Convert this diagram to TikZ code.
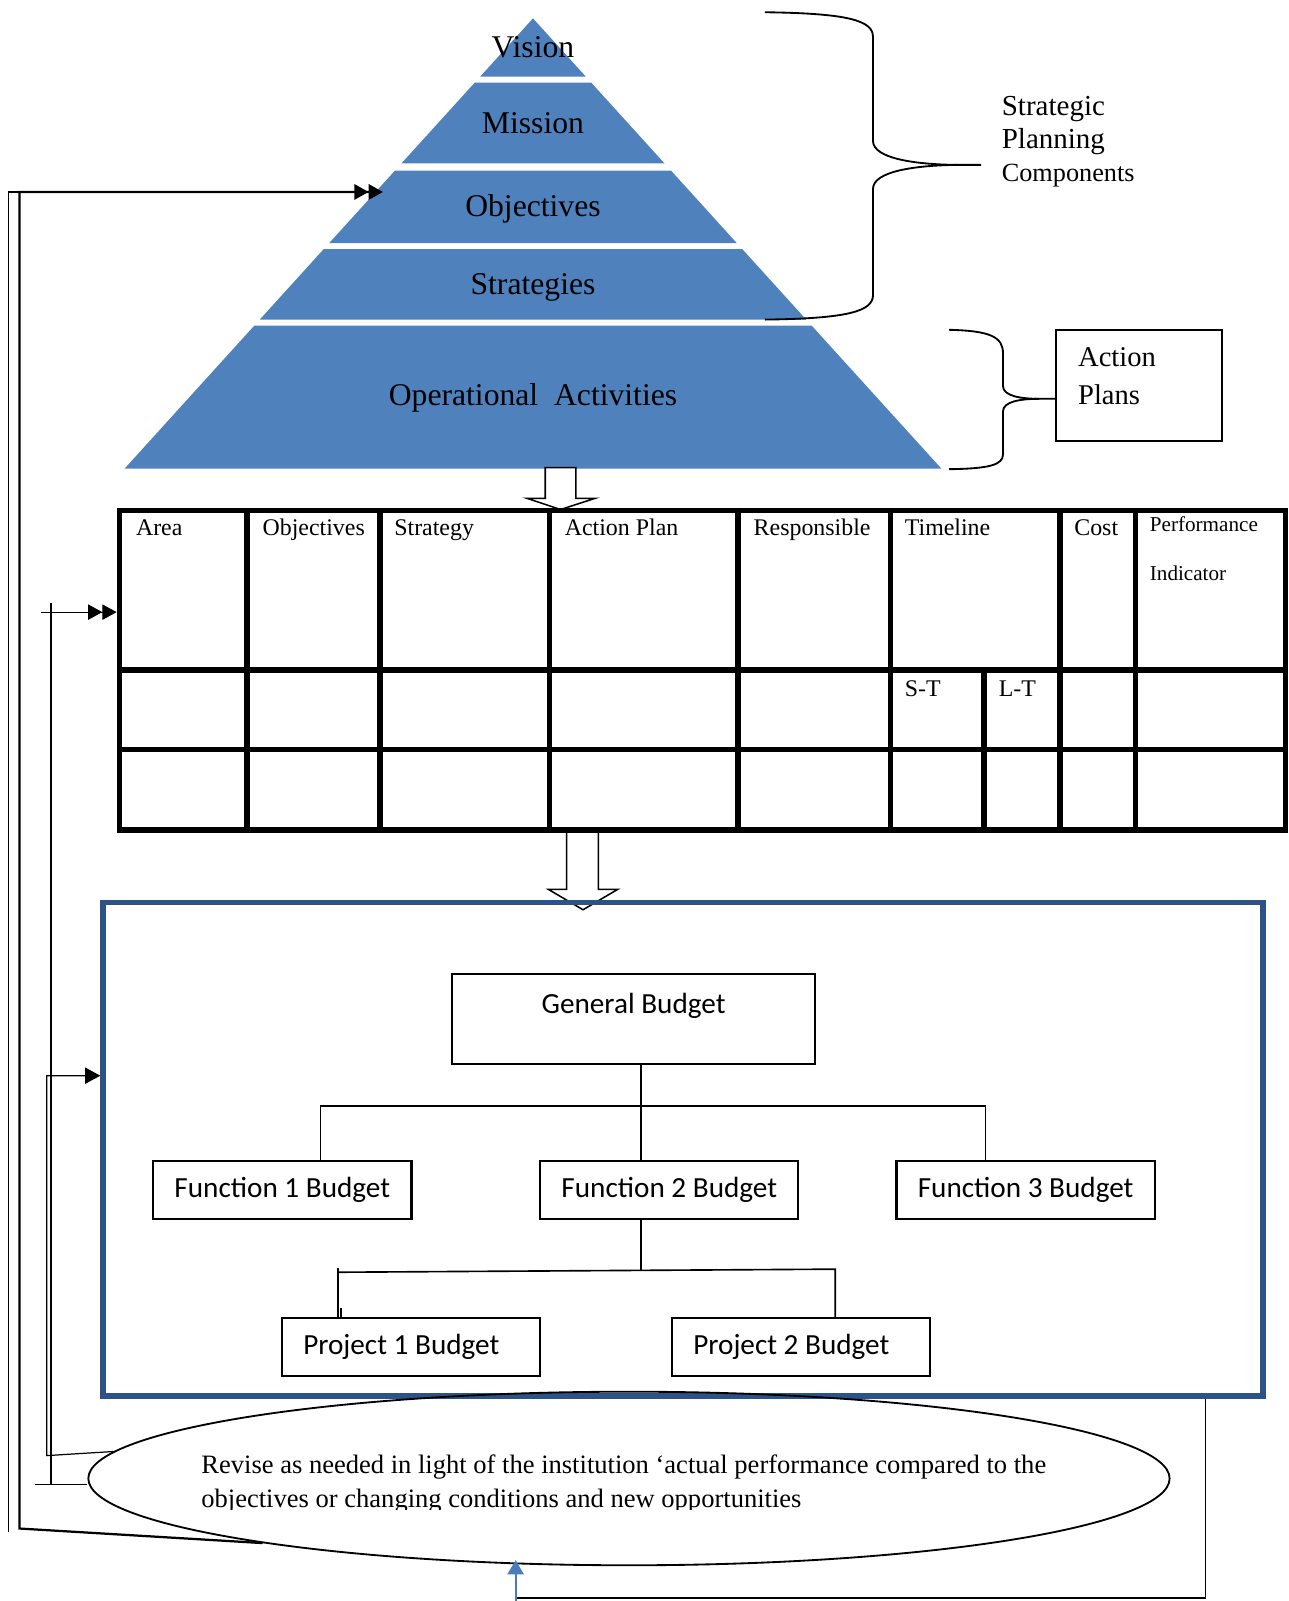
\documentclass[tikz,border=0pt]{standalone}
\usepackage{fontspec}
\setmainfont{Liberation Serif}
\newfontfamily\budgetfont{Carlito}
\usetikzlibrary{arrows.meta,positioning,shapes.geometric}

\definecolor{pyramidblue}{RGB}{79,129,189}
\definecolor{frameblue}{RGB}{44,82,136}
\definecolor{loopblue}{RGB}{74,126,187}

\begin{document}
\begin{tikzpicture}[
    x=1pt, y=-1pt,
    tier/.style={fill=pyramidblue},
    tiertext/.style={anchor=base, inner sep=0pt, font=\fontsize{31}{37}\selectfont},
    brace/.style={line width=1.8pt},
    hollow/.style={draw=black, fill=white, line width=1.5pt},
    gridline/.style={line width=5.5pt},
    cell/.style={anchor=base west, inner sep=0pt, font=\fontsize{23.4}{28}\selectfont},
    smallcell/.style={anchor=base west, inner sep=0pt, font=\fontsize{20.7}{25}\selectfont},
    budget/.style={rectangle, draw=black, line width=2pt, minimum width=253pt, minimum height=57pt, inner sep=0pt, font=\budgetfont\fontsize{28.6}{34}\selectfont},
    link/.style={line width=1.6pt},
    thinback/.style={line width=1.2pt},
    thickback/.style={line width=2.2pt},
    dbl/.style={-{Triangle[length=14pt,width=15pt]Triangle[length=14pt,width=15pt]}},
    sgl/.style={-{Triangle[length=15pt,width=16pt]}}
]
\useasboundingbox (0,0) rectangle (1262,1568);

% Pyramid
\fill[tier] (522,18) -- (573.7,75) -- (470.3,75) -- cycle;
\fill[tier] (464.9,81) -- (579.1,81) -- (650.8,160) -- (393.2,160) -- cycle;
\fill[tier] (386.9,167) -- (657.1,167) -- (721.5,238) -- (322.5,238) -- cycle;
\fill[tier] (317,244) -- (727,244) -- (789.6,313) -- (254.4,313) -- cycle;
\fill[tier] (249,319) -- (795,319) -- (922,459) -- (122,459) -- cycle;
\node[tiertext] (vision) at (522,56) {Vision};
\node[tiertext] (mission) at (522,131) {Mission};
\node[tiertext] (objectives) at (522,212.5) {Objectives};
\node[tiertext] (strategies) at (522,288) {Strategies};
\node[tiertext] (operational) at (522,397.5) {Operational\ \ Activities};
\coordinate (objleft) at (375,188);

% Braces
\draw[brace] (749,12) .. controls (830,13) and (855,20) .. (855,36) -- (855,138)
    .. controls (855,155) and (895,161) .. (937,161.5) -- (961,161.5);
\draw[brace] (937,161.5) .. controls (895,162) and (855,168) .. (855,185) -- (855,289)
    .. controls (855,305) and (830,312) .. (749,313);
\node[anchor=base west, align=left, inner sep=0pt, font=\fontsize{28.4}{32.6}\selectfont] (strategic) at (981,177.9)
    {Strategic\\Planning\\{\fontsize{25.7}{32.7}\selectfont Components}};

\node[draw, line width=1.8pt, minimum width=163pt, minimum height=109pt, inner sep=0pt] (actionplans) at (1115.5,377.5) {};
\node[anchor=base west, align=left, inner sep=0pt, font=\fontsize{28}{37.5}\selectfont] (actiontext) at (1055.7,396.5) {Action\\Plans};
\draw[brace] (929.5,323) .. controls (970,324) and (982.3,330) .. (982.3,346) -- (982.3,378)
    .. controls (982.3,388) and (1000,390.6) .. (1018,390.6) -- (actionplans.west |- 0,390.6);
\draw[brace] (1018,390.6) .. controls (1000,390.6) and (982.3,393) .. (982.3,403) -- (982.3,445)
    .. controls (982.3,455) and (970,459) .. (929.5,459.5);

% Block arrows
\draw[hollow] (534,458) -- (564,458) -- (564,488) -- (583,488) -- (549,499) -- (516,488) -- (534,488) -- cycle;
\draw[hollow] (555,813) -- (586,813) -- (586,871) -- (605,871) -- (571,891) -- (537,871) -- (555,871) -- cycle;

% Action plan table
\node[draw, gridline, minimum width=1142pt, minimum height=313pt, inner sep=0pt] (table) at (688,656.5) {};
\draw[gridline] (table.north -| 242,0) -- (table.south -| 242,0);
\draw[gridline] (table.north -| 372,0) -- (table.south -| 372,0);
\draw[gridline] (table.north -| 538,0) -- (table.south -| 538,0);
\draw[gridline] (table.north -| 723,0) -- (table.south -| 723,0);
\draw[gridline] (table.north -| 872,0) -- (table.south -| 872,0);
\draw[gridline] (table.north -| 1038,0) -- (table.south -| 1038,0);
\draw[gridline] (table.north -| 1112,0) -- (table.south -| 1112,0);
\draw[gridline] (table.west |- 0,656) -- (table.east |- 0,656);
\draw[gridline] (table.west |- 0,734) -- (table.east |- 0,734);
\draw[gridline] (964,656) -- (table.south -| 964,0);
\node[cell] (area) at (133,524) {Area};
\node[cell] (objcol) at (257,524) {Objectives};
\node[cell] (stratcol) at (386,524) {Strategy};
\node[cell] (plancol) at (553,524) {Action Plan};
\node[cell] (respcol) at (738,524) {Responsible};
\node[cell] (timecol) at (886,524) {Timeline};
\node[cell] (costcol) at (1052,524) {Cost};
\node[smallcell] (perfcol) at (1126,521) {Performance};
\node[smallcell] (indcol) at (1126,569) {Indicator};
\node[cell] (shortterm) at (886,682) {S-T};
\node[cell] (longterm) at (978,682) {L-T};

% Budgets
\node[draw=frameblue, line width=5.5pt, minimum width=1136pt, minimum height=483pt, inner sep=0pt] (budgetframe) at (669,1125.5) {};
\node[budget, minimum width=355pt, minimum height=0pt, text height=20pt, text depth=30pt, inner ysep=19pt, anchor=north] (general) at (620.5,953) {General Budget};
\node[budget] (fone) at (276.5,1165.5) {Function 1 Budget};
\node[budget, right=124pt of fone] (ftwo) {Function 2 Budget};
\node[budget, right=94pt of ftwo] (fthree) {Function 3 Budget};
\node[budget, text width=211pt, align=flush left, inner xsep=21pt] (pone) at (402.5,1319.5) {Project 1 Budget};
\node[budget, text width=211pt, align=flush left, inner xsep=21pt, right=127pt of pone] (ptwo) {Project 2 Budget};
\draw[link] (general.south -| 628,0) -- (ftwo.north -| 628,0);
\draw[link] (fone.north -| 314,0) -- (314,1083) -- (965,1083) -- (fthree.north -| 965,0);
\draw[link] (ftwo.south -| 628,0) -- (628,1244);
\draw[link] (pone.north -| 331,0) -- (331,1242) -- (331,1246) -- (818,1243) -- (ptwo.north -| 818,0);
\draw[link] (334,1281) -- (pone.north -| 334,0);

% Revision
\node[draw, ellipse, line width=1.8pt, minimum width=1059pt, minimum height=170pt, inner sep=0pt] (revise) at (616,1448) {};
\begin{scope}
\clip (0,0) rectangle (1262,1478);
\node[anchor=base west, align=left, inner sep=0pt, font=\fontsize{26}{32.7}\selectfont] (revisetext) at (197,1476)
    {Revise as needed in light of the institution ‘actual performance compared to the\\objectives or changing conditions and new opportunities};
\end{scope}

% Feedback loops
\draw[thinback] (8,1500) -- (8,188) -- (19,188);
\draw[thickback, dbl] (revise.190) -- (19,1497) -- (19,188) -- (objleft);
\draw[thinback, sgl] (revise.177.5) -- (45.7,1425.6) -- (45.7,1053.5) -- (budgetframe.west |- 0,1053.5);
\draw[thinback] ([yshift=-6pt]revise.west) -- (34,1454);
\draw[thinback] (50,1454) -- (50,591);
\draw[thinback, dbl] (40,599.5) -- (table.west |- 0,599.5);
\draw[thinback] (budgetframe.south -| 1181,0) -- (1181,1565) -- (505,1565);
\draw[loopblue, line width=2pt, -{Triangle[length=14pt,width=16pt]}] (505,1568) -- (505,1528);
\end{tikzpicture}
\end{document}
